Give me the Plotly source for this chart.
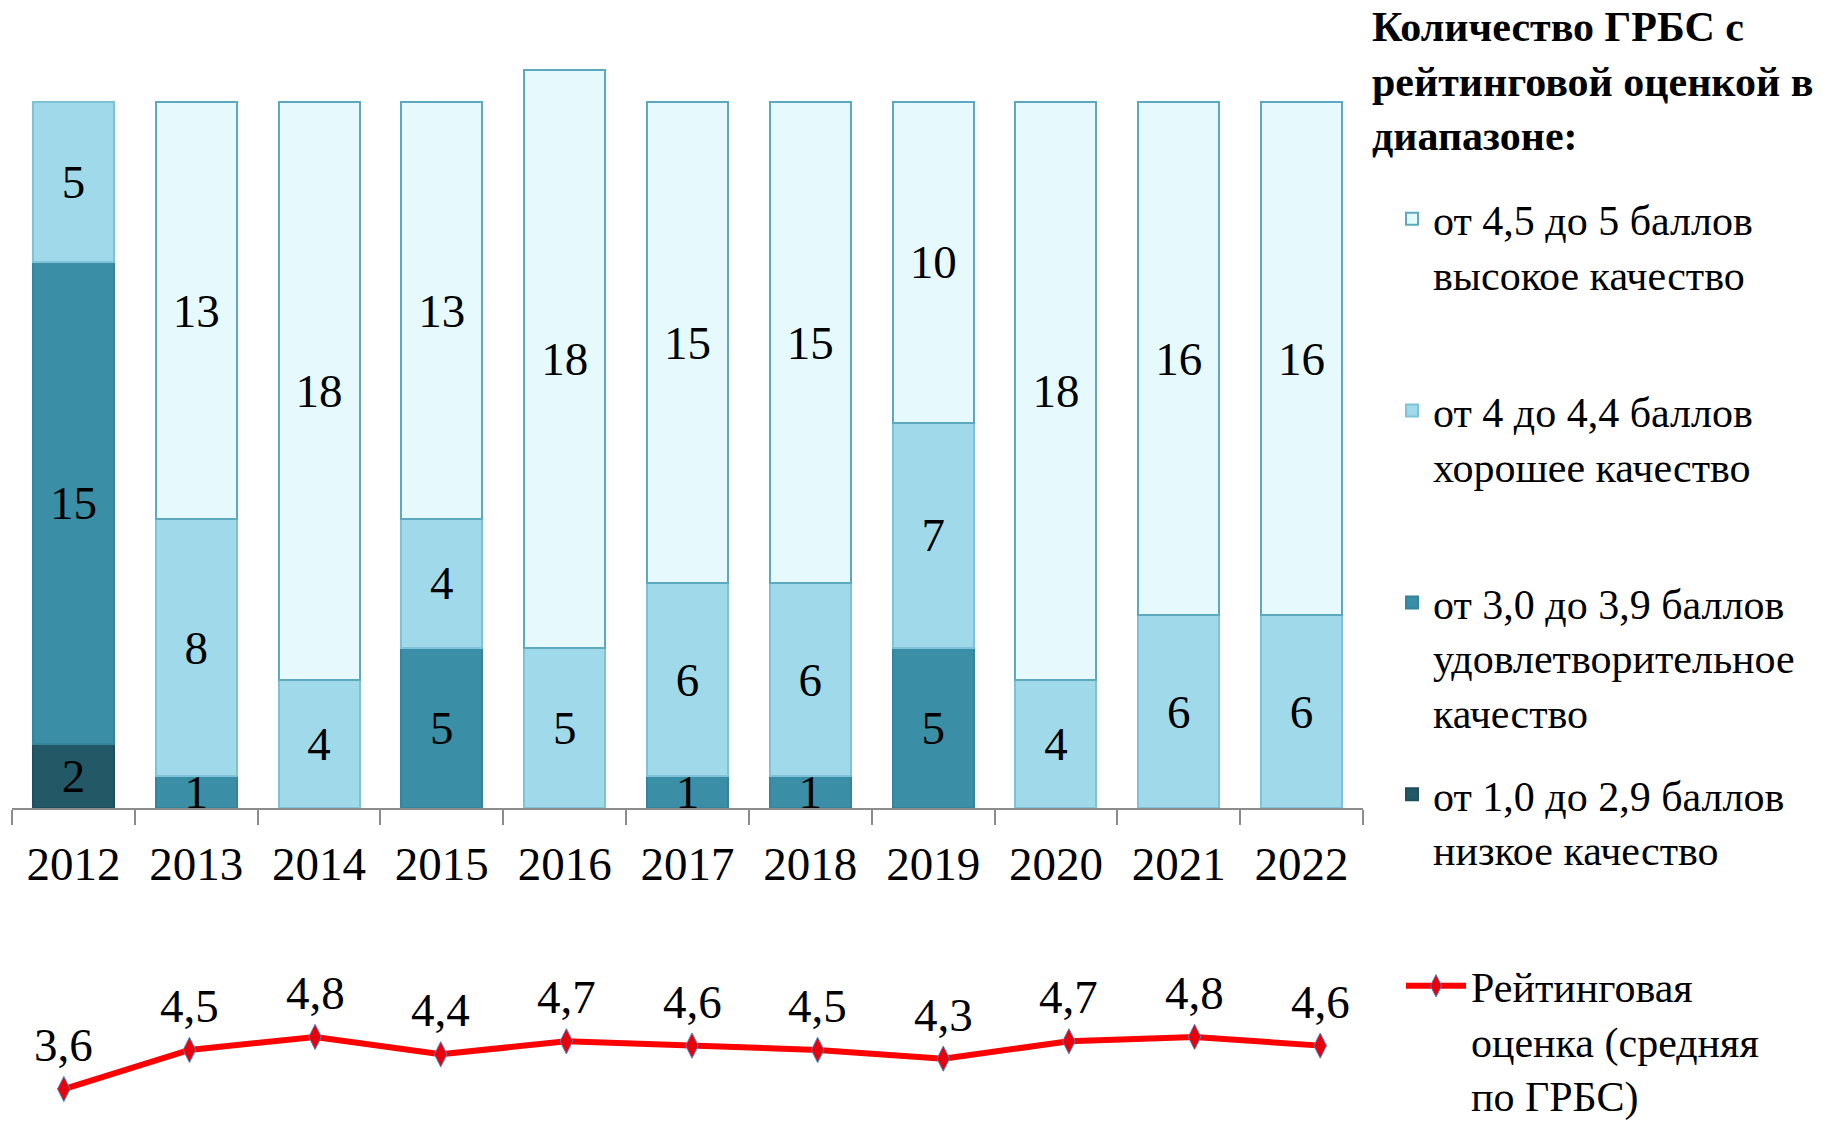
import plotly.graph_objects as go

years = ["2012", "2013", "2014", "2015", "2016", "2017", "2018", "2019", "2020", "2021", "2022"]
low = [2, 0, 0, 0, 0, 0, 0, 0, 0, 0, 0]
satisfactory = [15, 1, 0, 5, 0, 1, 1, 5, 0, 0, 0]
good = [5, 8, 4, 4, 5, 6, 6, 7, 4, 6, 6]
high = [0, 13, 18, 13, 18, 15, 15, 10, 18, 16, 16]
rating = [3.6, 4.5, 4.8, 4.4, 4.7, 4.6, 4.5, 4.3, 4.7, 4.8, 4.6]

names = [
    "от 1,0 до 2,9 баллов<br>низкое качество<br>\u00a0",
    "от 3,0 до 3,9 баллов<br>удовлетворительное<br>качество",
    "от 4 до 4,4 баллов<br>хорошее качество<br>\u00a0",
    "от 4,5 до 5 баллов<br>высокое качество<br>\u00a0",
]
legend_title = "<b>Количество ГРБС с<br>рейтинговой оценкой в<br>диапазоне:</b>"
line_name = "Рейтинговая<br>оценка (средняя<br>по ГРБС)"

fills = ["#235866", "#3A8EA6", "#A0DAEA", "#E6FAFD"]
edges = ["#1F4F5C", "#34849B", "#7DC2D6", "#5DA9BF"]

FONT = "Liberation Serif, Times New Roman, serif"
W, H = 1823, 1127

fig = go.Figure()
for i, (vals, nm, fc, ec) in enumerate(zip([low, satisfactory, good, high], names, fills, edges)):
    fig.add_trace(go.Bar(
        x=years, y=[v if v else None for v in vals], name=nm,
        legendgroup=f"g{i}", legendrank=100 - i,
        marker=dict(color=fc, line=dict(color=ec, width=2)),
        text=[str(v) if v else "" for v in vals],
        textposition="inside", insidetextanchor="middle",
        constraintext="none", textangle=0,
        textfont=dict(family=FONT, size=47, color="black"),
        legend="legend", xaxis="x", yaxis="y",
    ))

fig.add_trace(go.Scatter(
    x=years, y=rating, name=line_name,
    mode="lines+markers",
    line=dict(color="#FF0000", width=6),
    marker=dict(symbol="diamond-tall", size=18, color="#E8000B", line=dict(color="#4F81BD", width=1)),
    legend="legend2", xaxis="x2", yaxis="y2", cliponaxis=False,
))

annotations = [
    dict(x=idx, y=v, xref="x2", yref="y2", text=f"{v:.1f}".replace(".", ","),
         showarrow=False, yshift=44, yanchor="middle",
         font=dict(family=FONT, size=47, color="black"))
    for idx, v in enumerate(rating)
]
annotations.append(dict(
    x=1370 / W, y=1 - 2 / H, xref="paper", yref="paper", xanchor="left", yanchor="top",
    align="left", showarrow=False, text=legend_title,
    font=dict(family=FONT, size=42, color="black"),
))

fig.update_layout(
    width=W, height=H,
    margin=dict(l=0, r=0, t=0, b=0, autoexpand=False),
    paper_bgcolor="white", plot_bgcolor="white",
    barmode="stack", bargap=0.34,
    font=dict(family=FONT, color="black"),
    showlegend=True,
    annotations=annotations,
    xaxis=dict(
        domain=[12 / W, 1363 / W], type="category",
        showline=True, linecolor="#8C8C8C", linewidth=2,
        ticks="outside", ticklen=15, tickcolor="#8C8C8C", tickwidth=2,
        tickson="boundaries", ticklabelstandoff=14,
        tickfont=dict(family=FONT, size=47, color="black"),
        showgrid=False, zeroline=False,
    ),
    yaxis=dict(
        domain=[1 - 808 / H, 0.995], range=[0, 25],
        visible=False, showgrid=False, zeroline=False,
    ),
    xaxis2=dict(
        domain=[1 / W, 1383 / W], type="category", range=[-0.5, 10.5],
        anchor="y2", visible=False, showgrid=False,
    ),
    yaxis2=dict(
        domain=[0.0106, 0.1107], range=[3.0, 5.6], anchor="x2",
        visible=False, showgrid=False, zeroline=False,
    ),
    legend=dict(
        x=1391 / W, y=1 - 185 / H, xanchor="left", yanchor="top",
        traceorder="grouped", valign="top",
        font=dict(family=FONT, size=42, color="black"),
        tracegroupgap=25, itemwidth=32,
        bgcolor="rgba(0,0,0,0)",
    ),
    legend2=dict(
        x=1401 / W, y=1 - 952 / H, xanchor="left", yanchor="top",
        valign="top",
        font=dict(family=FONT, size=42, color="black"),
        itemwidth=60, bgcolor="rgba(0,0,0,0)",
    ),
)

fig.write_html("out.html")
